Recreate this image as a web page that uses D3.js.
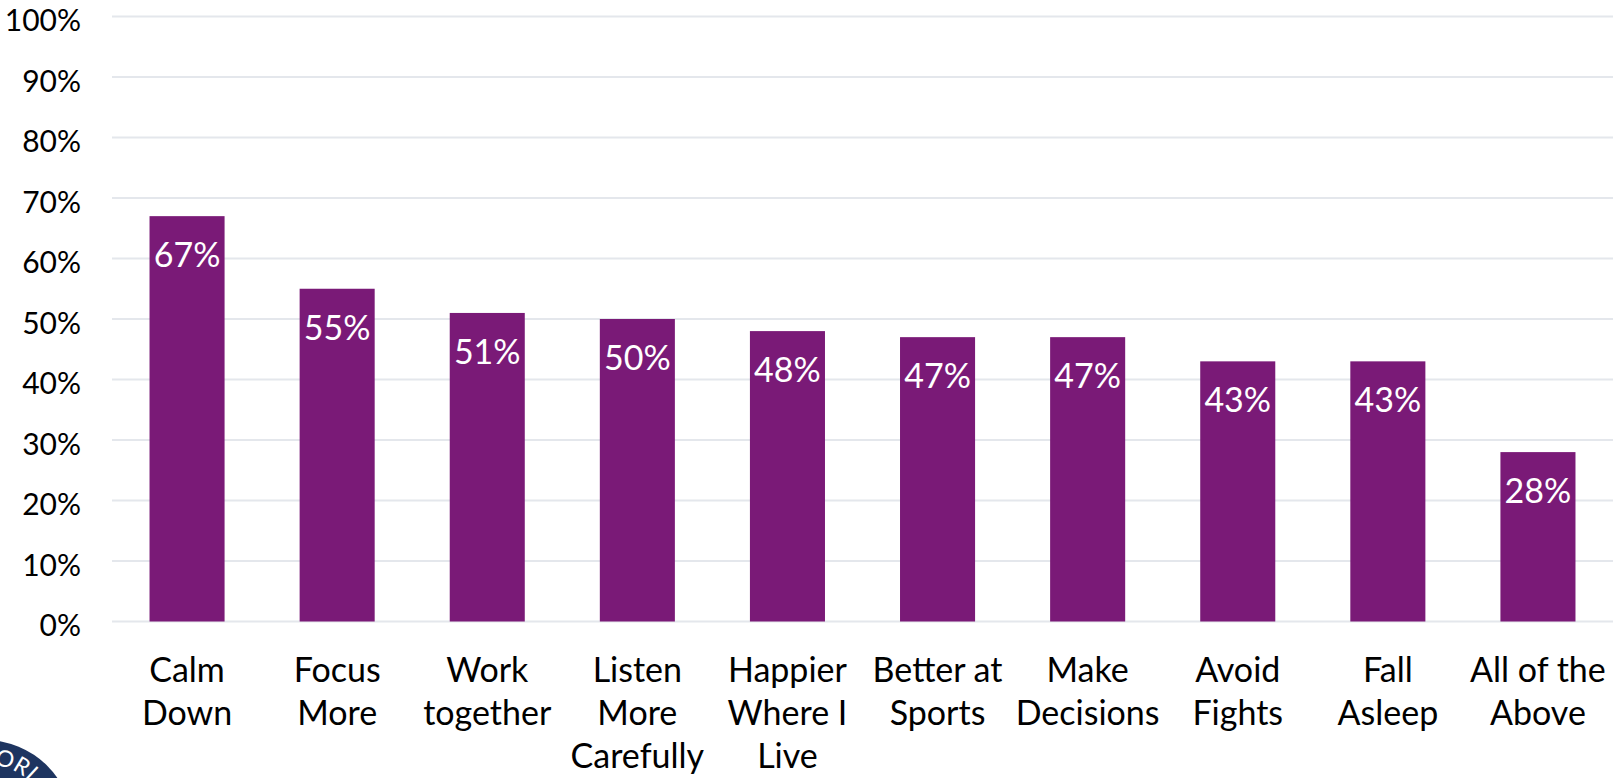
<!DOCTYPE html>
<html>
<head>
<meta charset="utf-8">
<script src="https://cdn.jsdelivr.net/npm/d3@7"></script>
<style>
  html, body { margin: 0; padding: 0; background: #ffffff; }
  svg { display: block; }
  text { font-family: Lato, "Open Sans", sans-serif; }
</style>
</head>
<body>
<svg id="chart" width="1620" height="778"></svg>
<script>
// Survey responses: share of students reporting each benefit
const categories = [
  ["Calm", "Down"],
  ["Focus", "More"],
  ["Work", "together"],
  ["Listen", "More", "Carefully"],
  ["Happier", "Where I", "Live"],
  ["Better at", "Sports"],
  ["Make", "Decisions"],
  ["Avoid", "Fights"],
  ["Fall", "Asleep"],
  ["All of the", "Above"]
];
const values = [67, 55, 51, 50, 48, 47, 47, 43, 43, 28];
const yTicks = [0, 10, 20, 30, 40, 50, 60, 70, 80, 90, 100];

const svg = d3.select("#chart");
const margin = { left: 112, right: 7, top: 16.5, bottom: 156.5 };
const W = 1620, H = 778;

const x = d3.scaleBand()
  .domain(d3.range(categories.length))
  .range([margin.left, W - margin.right])
  .paddingInner(0.5)
  .paddingOuter(0.25);

const y = d3.scaleLinear()
  .domain([0, 100])
  .range([H - margin.bottom, margin.top]);

// Horizontal gridlines
svg.append("g")
  .selectAll("line")
  .data(yTicks)
  .join("line")
  .attr("x1", margin.left)
  .attr("x2", W - margin.right)
  .attr("y1", d => y(d))
  .attr("y2", d => y(d))
  .attr("stroke", "#e4e7ec")
  .attr("stroke-width", 2);

// Y axis labels
const yAxis = d3.axisLeft(y)
  .tickValues(yTicks)
  .tickFormat(d => d + "%")
  .tickSize(0)
  .tickPadding(0);

svg.append("g")
  .attr("transform", `translate(81,0)`)
  .call(yAxis)
  .call(g => g.select(".domain").remove())
  .call(g => g.selectAll("text")
    .attr("dy", null)
    .attr("y", 14)
    .attr("fill", "#000")
    .style("font-family", "Lato, 'Open Sans', sans-serif")
    .style("font-size", "30px"));

// Bars
svg.append("g")
  .selectAll("rect")
  .data(values)
  .join("rect")
  .attr("x", (d, i) => x(i))
  .attr("width", x.bandwidth())
  .attr("y", d => y(d))
  .attr("height", d => y(0) - y(d))
  .attr("fill", "#7a1a77");

// Value labels inside bars
svg.append("g")
  .selectAll("text")
  .data(values)
  .join("text")
  .attr("x", (d, i) => x(i) + x.bandwidth() / 2)
  .attr("y", d => y(d) + 51)
  .attr("text-anchor", "middle")
  .attr("fill", "#ffffff")
  .style("font-size", "34px")
  .text(d => d + "%");

// Category labels
const cat = svg.append("g")
  .selectAll("text")
  .data(categories)
  .join("text")
  .attr("text-anchor", "middle")
  .attr("fill", "#000")
  .style("font-size", "34px");

cat.selectAll("tspan")
  .data((d, i) => d.map(line => ({ line, i })))
  .join("tspan")
  .attr("x", d => x(d.i) + x.bandwidth() / 2)
  .attr("y", (d, k) => 682 + k * 43)
  .text(d => d.line);

// Corner badge
const bx = -15, by = 828, br = 88, tr = 64;
const a0 = 8 * Math.PI / 180, a1 = 120 * Math.PI / 180;
const badge = svg.append("g");
badge.append("circle")
  .attr("cx", bx)
  .attr("cy", by)
  .attr("r", br)
  .attr("fill", "#1e3560");
badge.append("path")
  .attr("id", "badgeArc")
  .attr("d", `M${bx + tr * Math.sin(a0)},${by - tr * Math.cos(a0)} A${tr},${tr} 0 0 1 ${bx + tr * Math.sin(a1)},${by - tr * Math.cos(a1)}`)
  .attr("fill", "none");
badge.append("text")
  .attr("fill", "#ffffff")
  .style("font-size", "23px")
  .append("textPath")
  .attr("href", "#badgeArc")
  .text("ORL");
</script>
</body>
</html>
